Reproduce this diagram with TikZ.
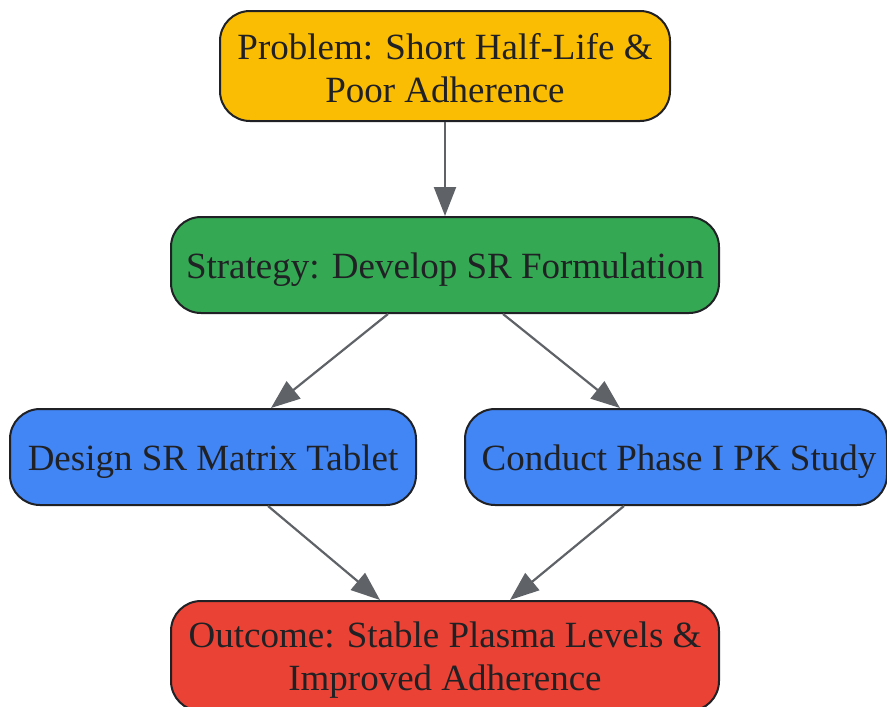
\documentclass[tikz,border=0pt]{standalone}
\usepackage{fontspec}
\setmainfont{Liberation Serif}
\usetikzlibrary{arrows.meta,calc}
\definecolor{cyellow}{HTML}{FBBC04}
\definecolor{cgreen}{HTML}{34A853}
\definecolor{cblue}{HTML}{4285F4}
\definecolor{cred}{HTML}{EA4335}
\definecolor{cborder}{HTML}{202124}
\definecolor{carrow}{HTML}{5F6368}
\begin{document}
\begin{tikzpicture}[x=1pt,y=-1pt,
  box/.style={draw=cborder,line width=2pt,rounded corners=30pt,inner sep=0pt},
  label/.style={text=cborder,font=\fontsize{37}{43}\selectfont,align=center,inner sep=0pt},
  conn/.style={draw=carrow,line width=2.2pt,-{Triangle[length=29pt,width=22pt]}}]
\useasboundingbox (0,0) rectangle (887,707);
\node[box,fill=cyellow,minimum width=450pt,minimum height=110pt] (p) at (445,66) {};
\node[box,fill=cgreen,minimum width=548pt,minimum height=96pt] (s) at (445,265) {};
\node[box,fill=cblue,minimum width=406pt,minimum height=96pt] (d) at (213,457) {};
\node[box,fill=cblue,minimum width=422pt,minimum height=96pt] (c) at (676,457) {};
\node[box,fill=cred,minimum width=548pt,minimum height=110pt] (o) at (445,656) {};
\node[label] (pt) at ([yshift=-2pt]p.center) {Problem: Short Half-Life \&\\Poor Adherence};
\node[label] (st) at ([yshift=-5pt]s.center) {Strategy: Develop SR Formulation};
\node[label] (dt) at ([yshift=-5pt]d.center) {Design SR Matrix Tablet};
\node[label] (ct) at ([xshift=3pt,yshift=-5pt]c.center) {Conduct Phase I PK Study};
\node[label] (ot) at ([yshift=-4pt]o.center) {Outcome: Stable Plasma Levels \&\\Improved Adherence};
\draw[conn] (p.south) -- (s.north);
\draw[conn] ([xshift=-57pt]s.south) -- ([xshift=58pt]d.north);
\draw[conn] ([xshift=58pt]s.south) -- ([xshift=-56pt]c.north);
\draw[conn] ([xshift=55pt]d.south) -- ([xshift=-65pt]o.north);
\draw[conn] ([xshift=-52pt]c.south) -- ([xshift=65pt]o.north);
\end{tikzpicture}
\end{document}
